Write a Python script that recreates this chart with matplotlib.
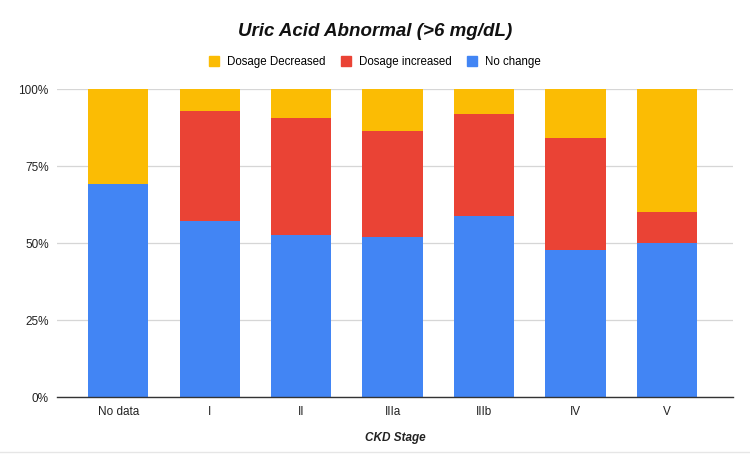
import matplotlib
matplotlib.use("Agg")
import matplotlib.pyplot as plt
from matplotlib.patches import Patch
from matplotlib.ticker import FuncFormatter
import numpy as np

plt.rcParams['font.family'] = ['Liberation Sans', 'DejaVu Sans']

categories = ["No data", "I", "II", "IIIa", "IIIb", "IV", "V"]
no_change = [69.2, 57.1, 52.7, 52.1, 59.0, 47.9, 50.0]
dosage_increased = [0.0, 35.8, 38.1, 34.5, 33.1, 36.3, 10.2]
dosage_decreased = [30.8, 7.1, 9.2, 13.4, 7.9, 15.8, 39.8]
yticks = [0, 25, 50, 75, 100]

c_blue = "#4285F4"
c_red = "#EA4335"
c_yellow = "#FBBC04"

fig = plt.figure(figsize=(7.5, 4.58), dpi=100)
ax = fig.add_axes([0.076, 0.1325, 0.901, 0.6725])

x = np.arange(len(categories))
w = 0.66
nc = np.array(no_change)
di = np.array(dosage_increased)
dd = np.array(dosage_decreased)
ax.bar(x, nc, w, color=c_blue, zorder=3)
ax.bar(x, di, w, bottom=nc, color=c_red, zorder=3)
ax.bar(x, dd, w, bottom=nc + di, color=c_yellow, zorder=3)

ax.set_xlim(-0.67, len(categories) - 1 + 0.72)
ax.set_ylim(0, 100)
ax.set_yticks(yticks)
ax.yaxis.set_major_formatter(FuncFormatter(lambda v, p: f"{int(v)}%"))
ax.set_xticks(x)
ax.set_xticklabels(categories)
ax.grid(axis='y', color="#d6d6d6", linewidth=0.9, zorder=0)
for s in ['top', 'right', 'left']:
    ax.spines[s].set_visible(False)
ax.spines['bottom'].set_color("#333333")
ax.spines['bottom'].set_linewidth(1.0)
ax.spines['bottom'].set_zorder(4)
ax.tick_params(axis='both', length=0, labelsize=8.5, colors="#222222")
ax.tick_params(axis='y', pad=6)
ax.tick_params(axis='x', pad=6)

ax.set_xlabel("CKD Stage", fontsize=8.5, fontweight='bold', fontstyle='italic',
              labelpad=10, color="#222222")

fig.text(0.5, 1 - 32 / 458, "Uric Acid Abnormal (>6 mg/dL)", ha='center', va='center',
         fontsize=13.5, fontweight='bold', fontstyle='italic', color="#111111")

handles = [Patch(color=c_yellow, label="Dosage Decreased"),
           Patch(color=c_red, label="Dosage increased"),
           Patch(color=c_blue, label="No change")]
fig.legend(handles=handles, loc='center', bbox_to_anchor=(0.5, 1 - 62 / 458), ncol=3,
           frameon=False, fontsize=8.3, handlelength=0.9, handleheight=0.9,
           handletextpad=0.7, columnspacing=1.3)

fig.add_artist(plt.Line2D([0, 1], [1 - 452 / 458, 1 - 452 / 458], color="#e6e6e6",
                          linewidth=1, transform=fig.transFigure))

fig.savefig("out.png", dpi=100)
